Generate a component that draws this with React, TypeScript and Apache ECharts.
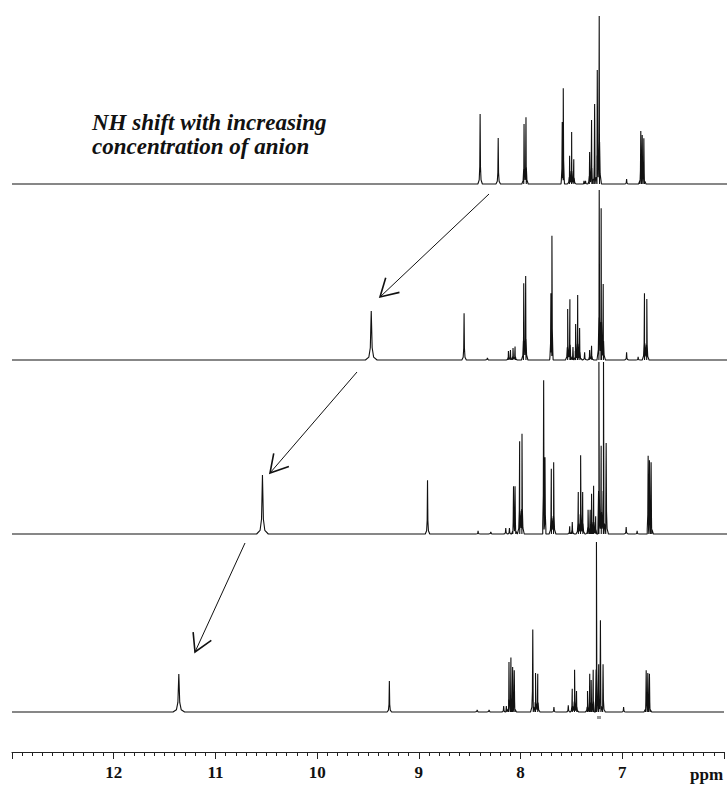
import React, { useEffect, useRef } from "react";
import * as echarts from "echarts";

// x axis (chemical shift, ppm), drawn right-to-left
const PPM_MIN = 6;
const PPM_MAX = 13;
const ppmTickLabels = [12, 11, 10, 9, 8, 7];

// Peak lists: [ppm, intensity (0-100 of a trace's height)]
const spectrum1Peaks: [number, number][] = [
  [8.417, 41.2], [8.24, 27.1], [7.987, 35.3], [7.968, 39.2],
  [7.613, 36.5], [7.603, 56.3], [7.541, 16.6], [7.521, 30.6], [7.5, 14.5],
  [7.4, 1.8], [7.385, 1.8], [7.345, 18.8], [7.326, 37.6], [7.296, 47.1],
  [7.27, 67.1], [7.251, 98.8], [6.983, 2.9], [6.844, 31.2], [6.83, 28.8], [6.814, 26.9],
];
const spectrum1Broad: [number, number][] = [];

const spectrum2Peaks: [number, number][] = [
  [8.574, 27.5], [8.346, 1.2], [8.14, 5.3], [8.12, 5.9], [8.095, 7.1], [8.075, 7.9],
  [7.99, 45.1], [7.971, 49.4], [7.724, 39.2], [7.714, 73.1],
  [7.56, 30], [7.538, 35.7], [7.508, 7.6], [7.482, 21.2], [7.462, 38.2], [7.443, 18.8],
  [7.394, 4.5], [7.345, 5.9], [7.326, 8.4], [7.251, 100], [7.232, 89.2], [7.212, 44.7],
  [6.983, 4.5], [6.87, 1.8], [6.808, 39.2], [6.785, 35.9],
];
const spectrum2Broad: [number, number][] = [[9.483, 28.8]];

const spectrum3Peaks: [number, number][] = [
  [8.932, 31.6], [8.437, 1.8], [8.313, 1.2], [8.166, 3.5], [8.13, 3.5],
  [8.09, 28.1], [8.075, 28.1], [8.03, 54.5], [8.007, 59],
  [7.795, 90.4], [7.782, 45.1], [7.72, 38.4], [7.697, 42.2],
  [7.54, 4.5], [7.515, 7.1], [7.456, 24.7], [7.433, 46.3], [7.413, 24.7],
  [7.36, 14.3], [7.34, 14.3], [7.326, 23.7], [7.306, 28.4], [7.286, 10.4],
  [7.254, 101.2], [7.232, 51.9], [7.209, 101.2], [7.183, 53.5],
  [6.987, 4.1], [6.88, 1.8], [6.772, 46.1], [6.759, 43.4], [6.743, 42.2],
];
const spectrum3Broad: [number, number][] = [[10.548, 34.7]];

const spectrum4Peaks: [number, number][] = [
  [9.29, 18.2], [8.427, 1.2], [8.31, 1.2], [8.166, 3.5], [8.14, 3.5],
  [8.114, 29.4], [8.095, 32], [8.078, 26.5], [8.062, 24.5],
  [7.88, 48.6], [7.853, 22.9], [7.831, 22.5], [7.672, 2.9], [7.531, 3.9],
  [7.492, 13.7], [7.469, 24.9], [7.45, 12.4], [7.342, 12.4], [7.32, 22.5],
  [7.306, 18.8], [7.286, 24.9], [7.254, 100], [7.232, 28.1], [7.215, 53.9], [7.189, 28.1],
  [6.987, 2.9], [6.765, 24.5], [6.749, 22.9], [6.733, 22.5],
];
const spectrum4Broad: [number, number][] = [[11.36, 22.4]];

const annotationLines = ["NH shift with increasing", "concentration of anion"];

// line-shape template for one resonance (style only)
const SHAPE_OFFSETS = [-0.022, -0.009, -0.0035, 0, 0.0035, 0.009, 0.022];
const SHAPE_LEVELS = [0, 0.06, 0.25, 1, 0.25, 0.06, 0];

function buildTrace(peaks: [number, number][], broad: [number, number][]) {
  const pts: [number, number][] = [[PPM_MIN, 0], [PPM_MAX, 0]];
  const add = (list: [number, number][], scale: number) =>
    list.forEach(([p, h]) =>
      SHAPE_OFFSETS.forEach((o, i) => pts.push([p + o * scale, h * SHAPE_LEVELS[i]]))
    );
  add(peaks, 1);
  add(broad, 2.6);
  pts.sort((a, b) => a[0] - b[0]);
  return pts;
}

function arrow(x1: number, y1: number, x2: number, y2: number) {
  const ang = Math.atan2(y1 - y2, x1 - x2);
  const L = 20;
  const a1 = ang + (30 * Math.PI) / 180;
  const a2 = ang - (30 * Math.PI) / 180;
  return [
    { type: "line", shape: { x1, y1, x2, y2 }, style: { stroke: "#111", lineWidth: 1 } },
    {
      type: "polyline",
      shape: {
        points: [
          [x2 + L * Math.cos(a1), y2 + L * Math.sin(a1)],
          [x2, y2],
          [x2 + L * Math.cos(a2), y2 + L * Math.sin(a2)],
        ],
      },
      style: { stroke: "#111", lineWidth: 1.6, fill: null },
    },
  ];
}

export default function App() {
  const ref = useRef<HTMLDivElement>(null);
  useEffect(() => {
    document.body.style.margin = "0";
    if (!ref.current) return;
    const chart = echarts.init(ref.current, null, { renderer: "svg" });
    const baselines = [184, 360, 534, 712];
    const traceH = 170;
    const traces = [
      buildTrace(spectrum1Peaks, spectrum1Broad),
      buildTrace(spectrum2Peaks, spectrum2Broad),
      buildTrace(spectrum3Peaks, spectrum3Broad),
      buildTrace(spectrum4Peaks, spectrum4Broad),
    ];
    const serif = '"Liberation Serif", "Times New Roman", serif';
    const option: any = {
      animation: false,
      backgroundColor: "#fff",
      grid: baselines.map((b) => ({ left: 12, width: 716, top: b - traceH, height: traceH })),
      xAxis: baselines.map((_, i) => ({
        type: "value",
        gridIndex: i,
        min: PPM_MIN,
        max: PPM_MAX,
        interval: 1,
        inverse: true,
        show: i === 3,
        offset: 40,
        splitLine: { show: false },
        axisLine: { show: true, onZero: false, lineStyle: { color: "#222", width: 1 } },
        axisTick: { show: true, length: 7, lineStyle: { color: "#222", width: 1 } },
        minorTick: { show: true, splitNumber: 10, length: 4, lineStyle: { color: "#222", width: 1 } },
        axisLabel: {
          margin: 12,
          fontFamily: serif,
          fontWeight: "bold",
          fontSize: 17,
          color: "#111",
          formatter: (v: number) => (ppmTickLabels.includes(v) ? String(v) : ""),
        },
      })),
      yAxis: baselines.map((_, i) => ({
        type: "value",
        gridIndex: i,
        min: 0,
        max: 100,
        show: false,
        splitLine: { show: false },
      })),
      series: traces.map((d, i) => ({
        type: "line",
        xAxisIndex: i,
        yAxisIndex: i,
        data: d,
        showSymbol: false,
        symbol: "none",
        clip: false,
        silent: true,
        lineStyle: { color: "#111", width: 1.1 },
      })),
      graphic: [
        ...arrow(489, 194, 380, 297),
        ...arrow(357, 372, 270, 473),
        ...arrow(245, 543, 195, 652),
        { type: "line", shape: { x1: 598, y1: 716, x2: 598, y2: 719 }, style: { stroke: "#333", lineWidth: 1 } },
        { type: "line", shape: { x1: 600, y1: 716, x2: 600, y2: 719 }, style: { stroke: "#333", lineWidth: 1 } },
        {
          type: "text",
          x: 92,
          y: 134,
          style: {
            text: annotationLines[0],
            font: `italic bold 23px ${serif}`,
            fill: "#111",
            textVerticalAlign: "bottom",
          },
        },
        {
          type: "text",
          x: 92,
          y: 158,
          style: {
            text: annotationLines[1],
            font: `italic bold 23px ${serif}`,
            fill: "#111",
            textVerticalAlign: "bottom",
          },
        },
        {
          type: "text",
          x: 690,
          y: 774,
          style: {
            text: "ppm",
            font: `bold 17px ${serif}`,
            fill: "#111",
            textVerticalAlign: "middle",
          },
        },
      ],
    };
    chart.setOption(option);
    return () => chart.dispose();
  }, []);
  return <div ref={ref} style={{ width: 727, height: 785 }} />;
}
